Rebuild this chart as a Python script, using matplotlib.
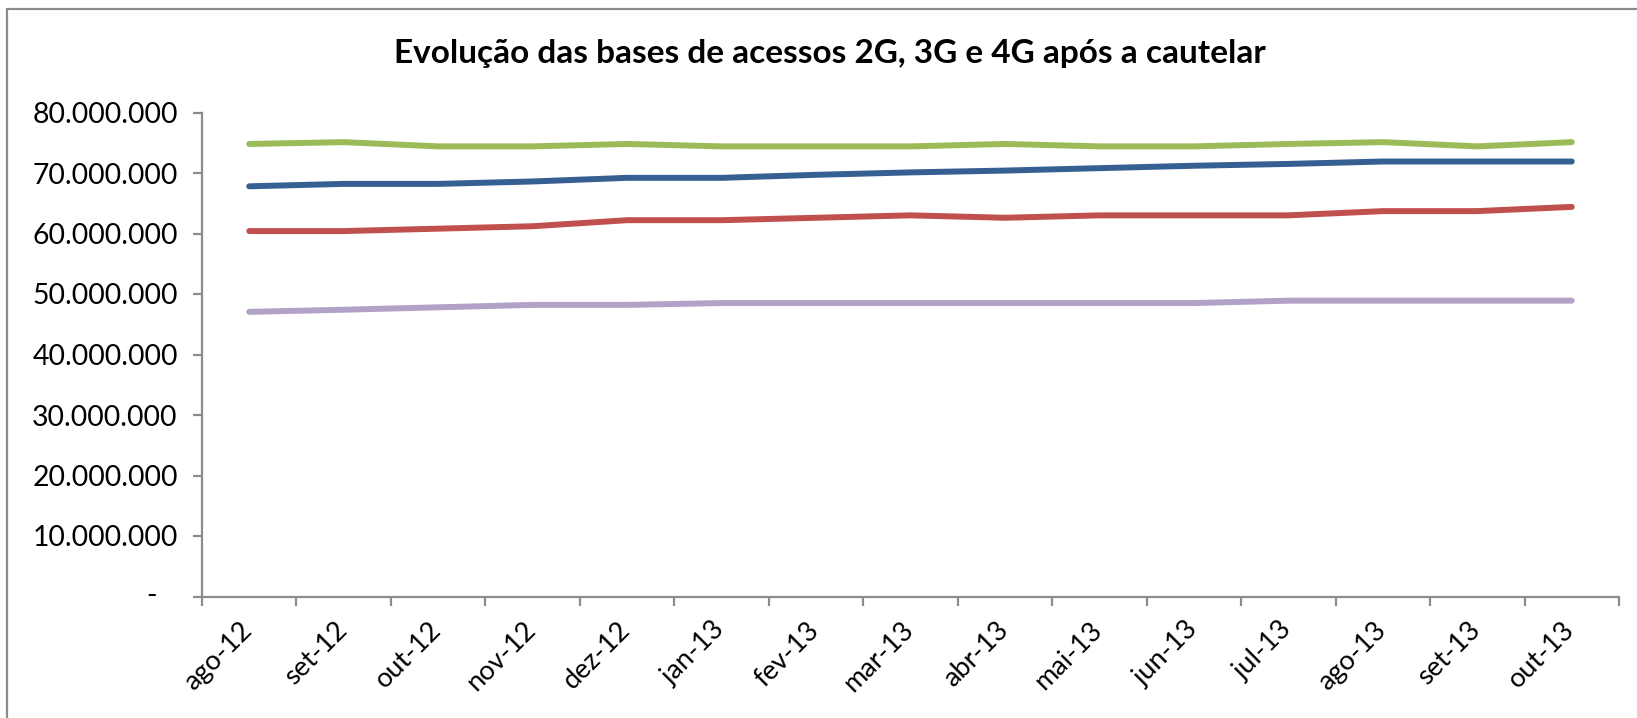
import numpy as np
import matplotlib
matplotlib.use("Agg")
import matplotlib.pyplot as plt
from matplotlib.patches import Rectangle
from matplotlib.transforms import ScaledTranslation
from matplotlib.ticker import FuncFormatter, FixedLocator

plt.rcParams['font.family'] = ['Lato', 'DejaVu Sans']

categories = ["ago-12", "set-12", "out-12", "nov-12", "dez-12", "jan-13", "fev-13",
              "mar-13", "abr-13", "mai-13", "jun-13", "jul-13", "ago-13", "set-13", "out-13"]

serie_verde = [74.8, 75.1, 74.4, 74.4, 74.8, 74.4, 74.4, 74.4, 74.8, 74.4, 74.4, 74.8, 75.1, 74.4, 75.1]
serie_azul = [67.8, 68.2, 68.2, 68.6, 69.2, 69.2, 69.7, 70.1, 70.4, 70.8, 71.2, 71.5, 71.9, 71.9, 71.9]
serie_vermelha = [60.4, 60.4, 60.8, 61.2, 62.2, 62.2, 62.6, 63.0, 62.6, 63.0, 63.0, 63.0, 63.7, 63.7, 64.4]
serie_roxa = [47.05, 47.4, 47.8, 48.2, 48.2, 48.5, 48.5, 48.5, 48.5, 48.5, 48.5, 48.9, 48.9, 48.9, 48.9]

y_ticks = [0, 10e6, 20e6, 30e6, 40e6, 50e6, 60e6, 70e6, 80e6]
title = "Evolução das bases de acessos 2G, 3G e 4G após a cautelar"

W, H = 1637, 718
fig = plt.figure(figsize=(W / 100, H / 100), dpi=100)
fig.patch.set_facecolor('white')

# chart frame
fig.add_artist(Rectangle((7 / W, -0.2), 1.2, (H - 9) / H + 0.2, transform=fig.transFigure,
                         fill=False, edgecolor='#8c8c8c', linewidth=1.6, clip_on=False))

left, right = 202 / W, 1619 / W
bottom, top = (H - 596.5) / H, (H - 112.5) / H
ax = fig.add_axes([left, bottom, right - left, top - bottom])

x = np.arange(len(categories))
series = [
    (serie_verde, '#9BBB59'),
    (serie_azul, '#376092'),
    (serie_vermelha, '#C0504D'),
    (serie_roxa, '#B3A2C7'),
]
for vals, col in series:
    ax.plot(x, np.array(vals) * 1e6, color=col, linewidth=4.3,
            solid_capstyle='round', solid_joinstyle='round')

ax.set_xlim(-0.5, len(categories) - 0.5)
ax.set_ylim(0, 80e6)

for s in ['top', 'right']:
    ax.spines[s].set_visible(False)
for s in ['left', 'bottom']:
    ax.spines[s].set_color('#8c8c8c')
    ax.spines[s].set_linewidth(1.6)

def fmt(v, pos):
    if v == 0:
        return ''
    return f"{int(round(v)):,}".replace(',', '.')

ax.yaxis.set_major_locator(FixedLocator(y_ticks))
ax.yaxis.set_major_formatter(FuncFormatter(fmt))
ax.tick_params(axis='y', which='major', length=6.5, width=1.6, color='#8c8c8c',
               pad=11, labelsize=20.4, labelcolor='black', direction='out')
ax.annotate('-', xy=(0, 0), xycoords=('axes fraction', 'data'), xytext=(-51 * 0.72, 0),
            textcoords='offset points', ha='center', va='center', fontsize=20.4)

ax.set_xticks(np.arange(-0.5, len(categories)), minor=False)
ax.set_xticklabels([''] * (len(categories) + 1), minor=False)
ax.set_xticks(x, minor=True)
ax.set_xticklabels(categories, minor=True, rotation=45, ha='right', va='top', fontsize=19.5)
ax.tick_params(axis='x', which='major', length=6.5, width=1.6, color='#8c8c8c', direction='out')
ax.tick_params(axis='x', which='minor', length=0, pad=15)
shift = ScaledTranslation(8 / 100, 0, fig.dpi_scale_trans)
for lbl in ax.get_xticklabels(minor=True):
    lbl.set_transform(lbl.get_transform() + shift)

fig.text(830 / W, (H - 54) / H, title, ha='center', va='center', fontsize=24, fontweight='bold')

fig.savefig('out.png', dpi=100)
